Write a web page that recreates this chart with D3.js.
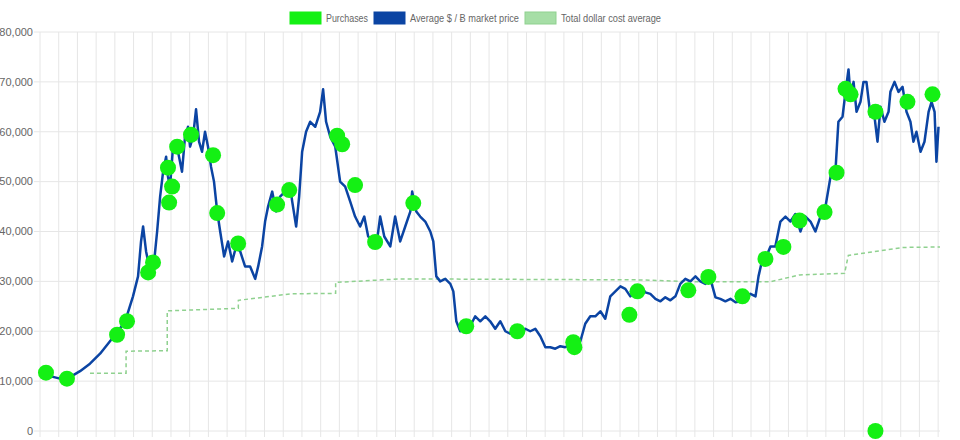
<!DOCTYPE html>
<html>
<head>
<meta charset="utf-8">
<script src="https://cdn.jsdelivr.net/npm/d3@7"></script>
<style>
  body { margin: 0; background: #fff; }
  text { font-family: "Liberation Sans", Arial, sans-serif; fill: #666; }
</style>
</head>
<body>
<div id="vis"></div>
<script>
// time is in months from the first point
var priceMonths = [0,.53,1.07,1.6,2.14,2.67,3.21,3.74,4.17,4.55,4.97,5.24,5.4,5.51,5.67,5.78,5.94,6.1,6.26,6.42,6.58,6.74,6.84,6.95,7.11,7.27,7.43,7.59,7.75,7.91,8.02,8.18,8.34,8.5,8.66,8.82,8.98,9.14,9.3,9.47,9.63,9.84,10.05,10.27,10.48,10.7,10.96,11.23,11.5,11.66,11.87,12.03,12.19,12.41,12.62,12.83,13.1,13.37,13.48,13.69,13.85,14.01,14.22,14.44,14.71,14.97,15.13,15.29,15.51,15.78,16.04,16.31,16.58,16.84,17.11,17.33,17.54,17.75,17.97,18.18,18.4,18.72,18.98,19.25,19.52,19.79,19.89,20.11,20.32,20.59,20.86,21.02,21.18,21.39,21.66,21.93,22.09,22.25,22.46,22.73,22.99,23.26,23.53,23.8,24.06,24.33,24.6,24.87,25.13,25.4,25.67,25.94,26.2,26.47,26.74,27.01,27.27,27.54,27.81,28.07,28.34,28.61,28.88,29.14,29.41,29.68,29.95,30.21,30.48,30.75,31.02,31.28,31.55,31.82,32.09,32.35,32.62,32.89,33.16,33.42,33.69,33.96,34.22,34.49,34.76,35.03,35.29,35.56,35.83,36.1,36.36,36.63,36.9,37.17,37.43,37.7,37.97,38.24,38.4,38.61,38.82,39.04,39.3,39.57,39.84,40.11,40.37,40.64,40.91,41.18,41.44,41.71,41.98,42.25,42.51,42.67,42.89,43.05,43.21,43.32,43.48,43.64,43.85,44.01,44.17,44.39,44.6,44.76,44.92,45.13,45.35,45.45,45.67,45.88,46.1,46.31,46.52,46.68,46.84,47.06,47.27,47.49,47.65,47.81,47.91,48.02];
var priceValues = [11800,11000,10500,10800,12000,13500,15500,18000,20000,22000,27000,31000,38000,41000,36000,34000,33000,34000,40000,47000,52000,55000,51000,49000,57000,58000,55000,52000,59000,61000,57000,59000,64500,58000,56000,60000,57000,53000,50000,44000,40000,35000,38000,34000,37000,36000,33000,33000,30500,33000,37000,42000,45000,48000,44000,47000,48000,49000,46000,41000,47000,56000,60000,62000,61000,64000,68500,62000,59000,57000,50000,49000,46000,43000,41000,43000,39000,38500,37000,43000,39000,37000,43000,38000,41000,44000,48000,44000,43000,42000,40000,38000,31000,30000,30500,29500,28000,22000,20000,20500,21000,23000,22000,23000,22000,20500,22000,20000,19500,20000,19500,20500,20000,20500,19000,16800,16800,16500,17000,16800,17200,17000,18000,21500,23000,23000,24000,22500,27000,28000,29000,28500,27000,28000,29000,27800,27500,26500,26000,26800,26200,27000,29500,30500,30000,31000,30000,29500,30500,26800,26500,26000,26500,25800,26000,27000,27500,27000,31000,34500,35000,37000,37000,42000,43000,42000,43500,40000,43000,42000,40000,43000,45000,51000,52000,62000,63000,68000,72500,67000,70000,64000,66000,70000,70000,63000,63000,58000,65000,62000,64000,68000,70000,68000,69000,64000,62000,58000,60000,56000,58000,64000,66000,64000,54000,61000];

var buyMonths = [.32,1.44,4.12,4.65,5.78,6.04,6.9,7.06,6.84,7.33,8.07,9.25,9.47,10.59,12.67,13.32,15.88,16.15,16.84,17.91,19.95,22.78,25.51,28.5,28.56,31.5,31.93,34.65,35.72,37.54,38.77,39.73,40.59,41.93,42.57,43.05,43.32,44.65,44.65,46.36,47.7];
var buyValues = [11700,10500,19300,22000,31800,33800,45800,49000,52800,57000,59400,55300,43700,37600,45400,48300,59200,57500,49300,37900,45700,21000,20000,17800,16800,23300,28000,28200,30900,27000,34500,36900,42200,43900,51800,68600,67500,64000,0,66000,67500];

var dcaMonths = [2.67,4.6,4.6,6.8,6.8,10.6,10.6,13.4,15.8,15.8,19.25,32,35.3,39,40.6,43.0,43.2,46.1,48.1];
var dcaValues = [11600,11600,16000,16100,24100,24600,26200,27500,27600,29800,30500,30300,29900,29900,31300,31600,35200,36800,36900];

var yTicks = [0,10000,20000,30000,40000,50000,60000,70000,80000];

var width = 960, height = 440;
var margin = { left: 40, right: 20, top: 32, bottom: 9 };

var svg = d3.select("#vis").append("svg")
  .attr("width", width).attr("height", height);

var x = d3.scaleLinear().domain([0, 48.1]).range([margin.left, width - margin.right]);
var y = d3.scaleLinear().domain([0, 80000]).range([height - margin.bottom, margin.top]);

// vertical grid, one per month
svg.append("g").selectAll("line")
  .data(d3.range(0, 49))
  .enter().append("line")
  .attr("x1", function(d) { return x(d); }).attr("x2", function(d) { return x(d); })
  .attr("y1", margin.top).attr("y2", height - margin.bottom + 6)
  .attr("stroke", "#e6e6e6");

// horizontal grid + labels
var yg = svg.append("g");
yg.selectAll("line").data(yTicks).enter().append("line")
  .attr("x1", margin.left - 6).attr("x2", width - margin.right)
  .attr("y1", function(d) { return y(d); }).attr("y2", function(d) { return y(d); })
  .attr("stroke", "#e6e6e6");
yg.selectAll("text").data(yTicks).enter().append("text")
  .attr("x", margin.left - 7).attr("y", function(d) { return y(d); })
  .attr("dy", "0.35em").attr("text-anchor", "end").attr("font-size", 11)
  .text(function(d) { return d3.format(",")(d); });

var dca = dcaMonths.map(function(m, i) { return [m, dcaValues[i]]; });
svg.append("path").datum(dca)
  .attr("fill", "none").attr("stroke", "#8fd18f").attr("stroke-width", 1.5)
  .attr("stroke-dasharray", "4,3")
  .attr("d", d3.line().x(function(d) { return x(d[0]); }).y(function(d) { return y(d[1]); }));

var price = priceMonths.map(function(m, i) { return [m, priceValues[i]]; });
svg.append("path").datum(price)
  .attr("fill", "none").attr("stroke", "#0b44a3").attr("stroke-width", 2.5)
  .attr("stroke-linejoin", "round")
  .attr("d", d3.line().x(function(d) { return x(d[0]); }).y(function(d) { return y(d[1]); }));

svg.append("g").selectAll("circle")
  .data(buyMonths.map(function(m, i) { return [m, buyValues[i]]; }))
  .enter().append("circle")
  .attr("cx", function(d) { return x(d[0]); })
  .attr("cy", function(d) { return y(d[1]); })
  .attr("r", 8).attr("fill", "#14f014");

// legend
var legend = [
  { label: "Purchases", fill: "#14f014", stroke: "#14f014", x: 290, w: 42 },
  { label: "Average $ / Ƀ market price", fill: "#0b44a3", stroke: "#0b44a3", x: 374, w: 109 },
  { label: "Total dollar cost average", fill: "#a6dea6", stroke: "#8fd18f", x: 525, w: 100 }
];
var lg = svg.append("g").selectAll("g").data(legend).enter().append("g")
  .attr("transform", function(d) { return "translate(" + d.x + ",12)"; });
lg.append("rect").attr("width", 31).attr("height", 12)
  .attr("fill", function(d) { return d.fill; })
  .attr("stroke", function(d) { return d.stroke; });
lg.append("text").attr("x", 36).attr("y", 6).attr("dy", "0.35em")
  .attr("font-size", 11)
  .attr("textLength", function(d) { return d.w; })
  .attr("lengthAdjust", "spacingAndGlyphs")
  .text(function(d) { return d.label; });
</script>
</body>
</html>
